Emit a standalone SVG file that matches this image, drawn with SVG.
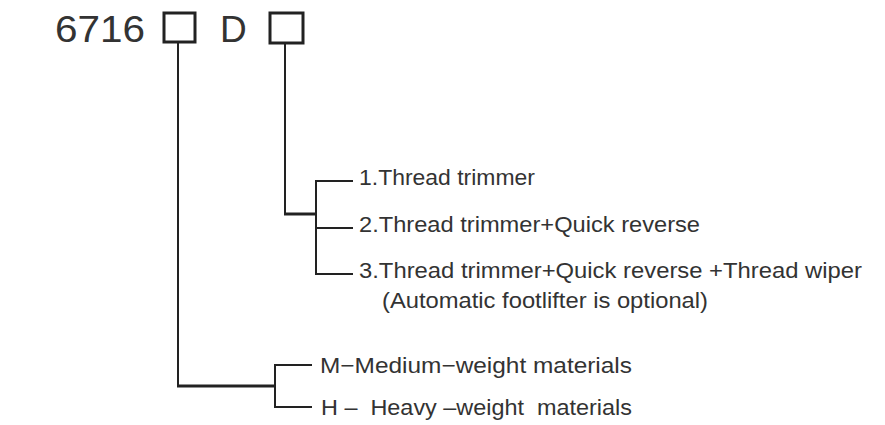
<svg xmlns="http://www.w3.org/2000/svg" width="885" height="425" viewBox="0 0 885 425">
<style>
text{font-family:"Liberation Sans",Arial,sans-serif;fill:#333;white-space:pre}
.t{font-size:22.5px}
.box{fill:none;stroke:#222;stroke-width:3}
.c{fill:none;stroke:#222;stroke-width:2}
.k{fill:none;stroke:#222;stroke-width:3}
</style>
<rect width="885" height="425" fill="#fff"/>
<g id="code">
<text x="55" y="42" style="font-size:37px" textLength="90" lengthAdjust="spacingAndGlyphs">6716</text>
<rect class="box" x="164" y="13" width="31" height="29"/>
<text x="220" y="42" style="font-size:37px">D</text>
<rect class="box" x="270" y="13" width="33" height="30"/>
</g>
<g id="connectors">
<path class="c" d="M178 42V386"/>
<path class="k" d="M177 386H275"/>
<path class="c" d="M312 365H275V407H312"/>
<path class="c" d="M285 43V214"/>
<path class="k" d="M284 214H316"/>
<path class="c" d="M353 181H316V274H353M316 228H353"/>
</g>
<g id="opt1"><text class="t" x="359" y="185" textLength="176" lengthAdjust="spacingAndGlyphs">1.Thread trimmer</text></g>
<g id="opt2"><text class="t" x="359" y="232" textLength="341" lengthAdjust="spacingAndGlyphs">2.Thread trimmer+Quick reverse</text></g>
<g id="opt3"><text class="t" x="359" y="278" textLength="503" lengthAdjust="spacingAndGlyphs">3.Thread trimmer+Quick reverse +Thread wiper</text>
<text class="t" x="382" y="308" textLength="326" lengthAdjust="spacingAndGlyphs">(Automatic footlifter is optional)</text></g>
<g id="optM"><text class="t" x="320" y="373" textLength="312" lengthAdjust="spacingAndGlyphs">M−Medium−weight materials</text></g>
<g id="optH"><text class="t" x="321" y="415" textLength="311" lengthAdjust="spacingAndGlyphs">H –  Heavy –weight  materials</text></g>
</svg>
